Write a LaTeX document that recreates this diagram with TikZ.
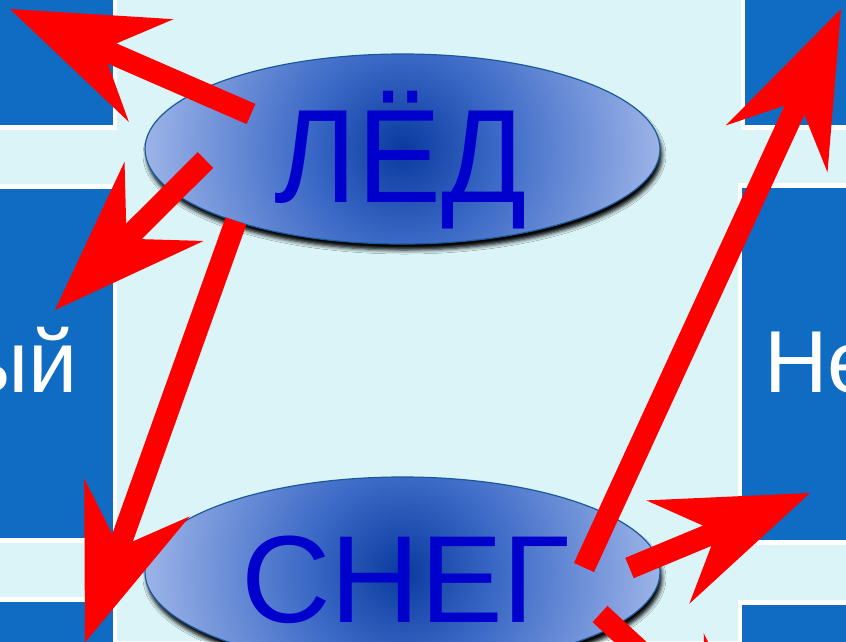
\documentclass[tikz,border=0pt]{standalone}
\usepackage{fontspec}
\usepackage{graphicx}
\setmainfont{Liberation Sans}
\usetikzlibrary{arrows.meta,shapes.geometric,shadows.blur}
\definecolor{bgc}{HTML}{DBF4F7}
\definecolor{boxc}{HTML}{0F6CC2}
\definecolor{txtc}{HTML}{0000CC}
\definecolor{ec0}{HTML}{0A3A9F}
\definecolor{ec1}{HTML}{3B69C6}
\definecolor{ec2}{HTML}{9DB4E8}
\definecolor{eline}{HTML}{1B5A9A}
\pgfdeclareradialshading{ellrad}{\pgfpoint{0bp}{0bp}}{color(0bp)=(ec0); color(8.8bp)=(ec1); color(24bp)=(ec2); color(50bp)=(ec2)}
\begin{document}
\begin{tikzpicture}[x=1pt,y=-1pt,
  sidebox/.style={fill=boxc, draw=white, line width=4.5pt},
  oval/.style={ellipse, minimum width=515pt, minimum height=190pt, inner sep=0pt,
    draw=eline, line width=1.2pt,
    blur shadow={shadow xshift=2pt, shadow yshift=-6pt, shadow blur radius=4pt, shadow opacity=100},
    path picture={\shade[shading=ellrad] (path picture bounding box.center) circle (270pt);}},
  word/.style={text=txtc, inner sep=0pt, anchor=base},
  sidetext/.style={text=white, inner sep=0pt, font=\fontsize{88}{88}\selectfont},
  bigarrow/.style={draw=red, line width=22pt,
    -{Stealth[length=154pt, width=112pt, inset=53pt, line width=0pt]}}]
\useasboundingbox (0,0) rectangle (846,641);
\clip (0,0) rectangle (846,641);
\fill[bgc] (0,0) rectangle (846,641);
% side boxes
\path[sidebox] (-20,-20) rectangle (115,127.5);
\path[sidebox] (-20,186.5) rectangle (115,540.5);
\path[sidebox] (-20,599.5) rectangle (115,700);
\path[sidebox] (743,-20) rectangle (870,127.5);
\path[sidebox] (740,185.5) rectangle (870,542.5);
\path[sidebox] (740,602.5) rectangle (870,700);
\node[sidetext, anchor=base east] (ty) at (78,392) {ый};
\node[sidetext, anchor=base west] (tn) at (764,392) {Не};
% ovals
\node[oval] (e1) at (402.5,149) {};
\node[oval] (e2) at (402.5,572) {};
\node[word, font=\fontsize{133}{133}\selectfont] (t1) at (401,202) {\scalebox{0.947}[1]{ЛЁД}};
\node[word, font=\fontsize{124}{124}\selectfont] (t2) at (405.5,622) {СНЕГ};
% arrows
\coordinate (a1) at (251,114);   \coordinate (a1t) at (10,9);
\coordinate (b1) at (205.5,160); \coordinate (b1t) at (55,310);
\coordinate (c1) at (236,221);   \coordinate (c1t) at (85,642.5);
\coordinate (d1) at (584,567.5); \coordinate (d1t) at (841,9);
\coordinate (f1) at (629.5,568); \coordinate (f1t) at (810,493);
\coordinate (g1) at (600,614);   \coordinate (g1t) at (779,779);
\draw[bigarrow] (a1) -- (a1t);
\draw[bigarrow] (b1) -- (b1t);
\draw[bigarrow] (c1) -- (c1t);
\draw[bigarrow] (d1) -- (d1t);
\draw[bigarrow] (f1) -- (f1t);
\draw[bigarrow] (g1) -- (g1t);
\end{tikzpicture}
\end{document}
